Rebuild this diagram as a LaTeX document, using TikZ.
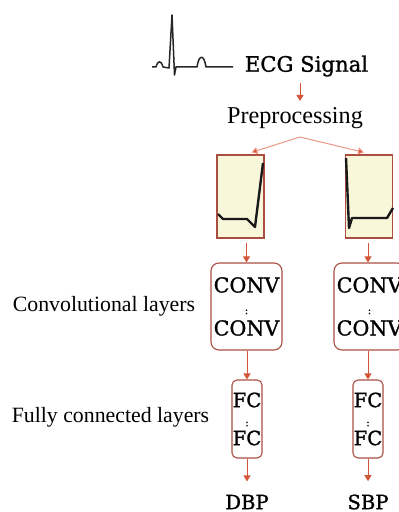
\documentclass[tikz,border=0pt]{standalone}
\usepackage{fontspec}
\setmainfont{Liberation Serif}
\newfontfamily\slabfont[FakeBold=1.2]{DejaVu Serif}
\usetikzlibrary{arrows.meta, positioning, calc}
\definecolor{arrred}{RGB}{212,86,58}
\definecolor{boxred}{RGB}{170,78,66}
\definecolor{splitred}{RGB}{236,150,130}
\definecolor{paper}{RGB}{249,247,218}

\begin{document}
\begin{tikzpicture}[x=0.5pt, y=-0.5pt,
  imgbox/.style  = {draw=boxred, fill=paper, line width=0.6pt, minimum width=23.5pt,
                    minimum height=41.5pt, inner sep=0pt},
  convbox/.style = {draw=boxred, rounded corners=4pt, line width=0.55pt, minimum width=35.5pt,
                    minimum height=43.5pt, inner sep=0pt, align=center,
                    font=\slabfont\fontsize{10.3pt}{10.75pt}\selectfont},
  fcbox/.style   = {draw=boxred, rounded corners=2.5pt, line width=0.55pt, minimum width=15pt,
                    minimum height=39pt, inner sep=0pt, align=center,
                    font=\slabfont\fontsize{9.8pt}{9.5pt}\selectfont},
  outlab/.style  = {inner sep=0pt, font=\slabfont\fontsize{9.8pt}{11pt}\selectfont},
  sidelab/.style = {inner sep=0pt, font=\fontsize{10.9pt}{13pt}\selectfont},
  wave/.style    = {line width=1.2pt, line join=round, black!90},
  arr/.style     = {-{Triangle[length=3pt, width=3.5pt]}, line width=0.5pt, draw=arrred, fill=arrred},
  sarr/.style    = {-{Triangle[length=3pt, width=3.5pt, fill=arrred]}, line width=0.5pt, draw=splitred},
]
\useasboundingbox (0,0) rectangle (398,512);

% ── ECG trace and input ──────────────────────────────────────────────────────
\draw[line width=0.75pt, black!85, line join=round]
  (152,67) -- (156,67) .. controls (158,60) and (161,60) .. (163,67) -- (169,68)
  -- (172,15) -- (174.5,75) -- (176,67) -- (197,67)
  .. controls (199,54) and (204,54) .. (206,67) -- (233,67);
\node[inner sep=3pt, font=\slabfont\fontsize{10.6pt}{12pt}\selectfont] (ecg) at (306.5,66) {ECG Signal};
\node[inner sep=3pt, font=\fontsize{12.1pt}{14pt}\selectfont] (prep) at (295,118) {Preprocessing};
\coordinate (split) at (300,137);
\draw[arr] (ecg.south -| split) -- (prep.north -| split);

% ── Two branches ─────────────────────────────────────────────────────────────
\node[imgbox]  (imgL) at (240.5,196.5) {};
\node[imgbox]  (imgR) at (369,196.5)   {};
\draw[sarr] (split) -- ($(imgL.north)+(11,-2)$);
\draw[sarr] (split) -- ($(imgR.north)+(-5,-2)$);
\draw[wave] (218,214) -- (223,219) -- (247,219) -- (255,227) -- (263,163);
\draw[wave] (346,158) -- (349,228) -- (352,218) -- (387,218) -- (393,208);

\node[convbox] (convL) at (246.5,306.5) {CONV\\{\tiny :}\\CONV};
\node[convbox] (convR) at (369.5,306.5) {CONV\\{\tiny :}\\CONV};
\node[fcbox]   (fcL)   at (247,419)     {FC\\{\tiny :}\\FC};
\node[fcbox]   (fcR)   at (368,419)     {FC\\{\tiny :}\\FC};
\node[outlab]  (dbp)   at (247,502)     {DBP};
\node[outlab]  (sbp)   at (368,502)     {SBP};

\foreach \a/\b in {convL/fcL, convR/fcR}
  \draw[arr] (\a.south -| \b) -- (\b.north);
\draw[arr, shorten <=2pt] (imgL.south -| convL) -- (convL.north);
\draw[arr, shorten <=2pt] (imgR.south -| fcR) -- (convR.north -| fcR);
\draw[arr, shorten >=6.5pt] (fcL.south) -- (dbp.north);
\draw[arr, shorten >=6.5pt] (fcR.south) -- (sbp.north);

% ── Stage labels ─────────────────────────────────────────────────────────────
\node[sidelab] (convlab) at (104,306) {Convolutional layers};
\node[sidelab] (fclab)   at (110.5,417) {Fully connected layers};
\end{tikzpicture}
\end{document}
